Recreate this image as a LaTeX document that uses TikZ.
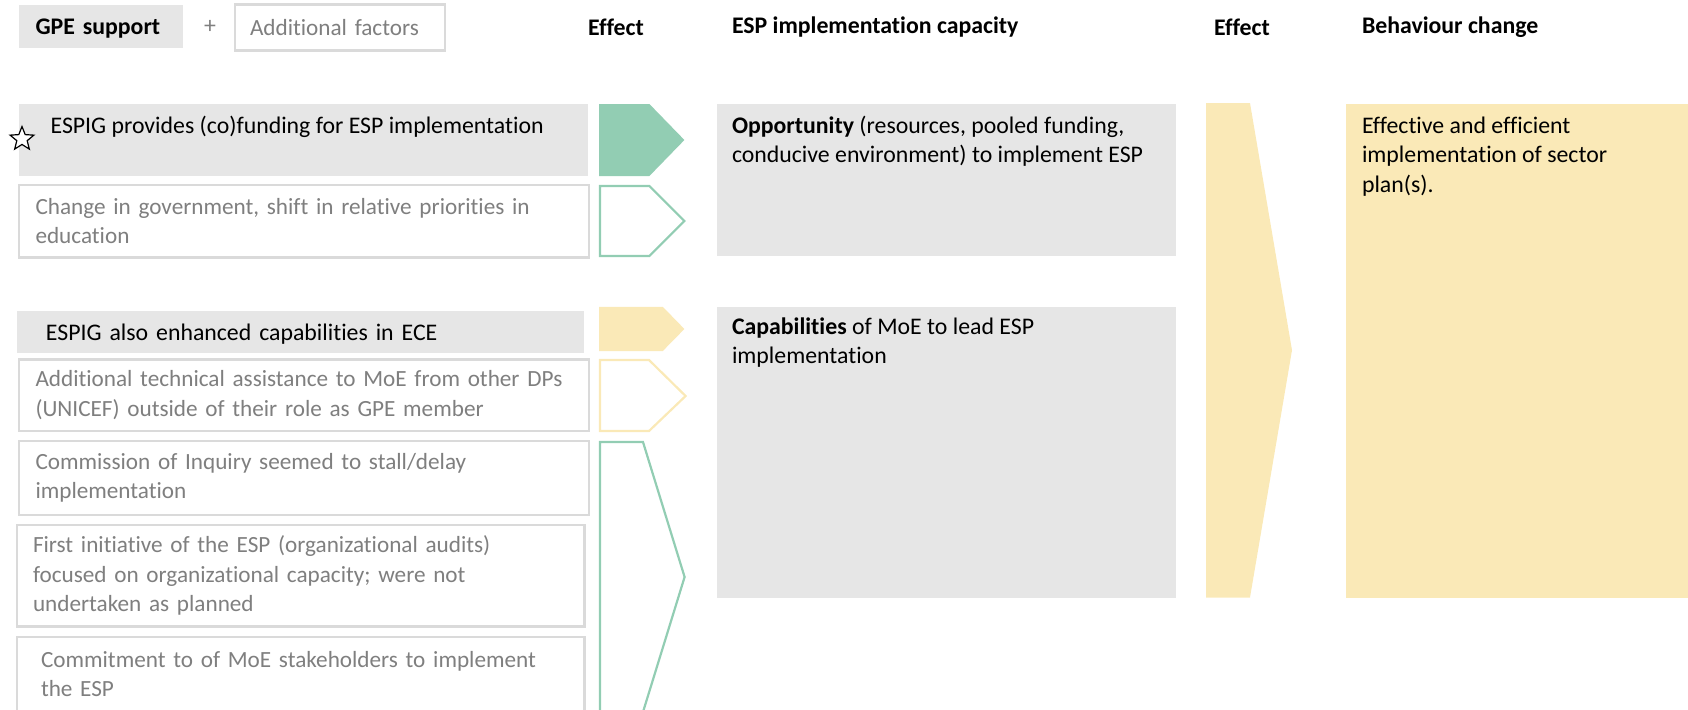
\documentclass[tikz,border=0pt]{standalone}
\usepackage{fontspec}
\setmainfont{Carlito}[Ligatures=NoCommon]
\usetikzlibrary{positioning,shapes.geometric}
\definecolor{boxgray}{HTML}{E6E6E6}
\definecolor{linegray}{HTML}{DADADA}
\definecolor{textgray}{HTML}{7F7F7F}
\definecolor{effgreen}{HTML}{92CDB3}
\definecolor{effyellow}{HTML}{FAE9B7}

\begin{document}
\begin{tikzpicture}[x=1pt, y=1pt,
  every node/.style={font=\fontsize{11.9}{14.75}\selectfont, inner sep=0pt, outer sep=0pt},
  head/.style={font=\fontsize{11.9}{14.75}\selectfont\bfseries},
  support/.style={fill=boxgray, anchor=north west, align=left},
  factor/.style={draw=linegray, line width=1.1pt, fill=white, text=textgray, anchor=north west, align=left, font=\fontsize{11.6}{14.75}\selectfont},
  oneline/.style={text depth=0pt},
  inbox/.style={anchor=base west, align=left},
  greenfill/.style={fill=effgreen},
  greenline/.style={draw=effgreen, line width=1.1pt},
  yellowfill/.style={fill=effyellow},
  yellowline/.style={draw=effyellow, line width=1.1pt}
]
\useasboundingbox (0,0) rectangle (844,-354.5);
\clip (0,0) rectangle (844,-354.5);

% column heads
\node[support, oneline, font=\fontsize{11.9}{14.75}\selectfont\bfseries, minimum width=82pt, minimum height=21.5pt, inner xsep=8.25pt, text width=65.5pt] (gpe) at (9.5,-2.5) {GPE support};
\node[text=textgray] (plus) at (105,-13.5) {+};
\node[factor, oneline, minimum width=105pt, minimum height=23pt, inner xsep=7.5pt, text width=90pt] (addf) at (117.5,-2.2) {Additional factors};
\node[head] (eff1) at (308,-13.5) {Effect};
\node[head, anchor=west] (capacity) at (366,-13.5) {ESP implementation capacity};
\node[head] (eff2) at (621,-13.5) {Effect};
\node[head, anchor=west] (behaviour) at (681,-13.5) {Behaviour change};

% left column
\node[support, minimum width=284.5pt, minimum height=36pt] (espig) at (9.5,-52) {};
\node[inbox] (espigtxt) at (25.3,-66.5) {ESPIG provides (co)funding for ESP implementation};
\node[star, star points=5, star point ratio=2.3, draw, line width=0.6pt, fill=white, minimum size=12.5pt] (mark) at (11,-69.5) {};
\node[factor, minimum width=285pt, minimum height=36.25pt, inner xsep=8.25pt, text width=268.5pt] (govt) at (9.5,-92.5) {Change in government, shift in relative priorities in\\education};
\node[support, oneline, minimum width=283.25pt, minimum height=21pt, inner xsep=14.5pt, text width=254.25pt] (ece) at (8.5,-155.5) {ESPIG also enhanced capabilities in ECE};
\node[factor, minimum width=285pt, minimum height=35.75pt, inner xsep=8.25pt, text width=268.5pt] (ta) at (9.5,-179.75) {Additional technical assistance to MoE from other DPs\\(UNICEF) outside of their role as GPE member};
\node[factor, minimum width=285pt, minimum height=37pt, inner xsep=8.25pt, text width=268.5pt] (inquiry) at (9.5,-220.5) {Commission of Inquiry seemed to stall/delay\\implementation};
\node[factor, minimum width=283.75pt, minimum height=50.75pt, inner xsep=8pt, text width=267.75pt] (audits) at (8.5,-262.5) {First initiative of the ESP (organizational audits)\\focused on organizational capacity; were not\\undertaken as planned};
\node[factor, minimum width=283.75pt, minimum height=37pt, inner xsep=12pt, text width=259.75pt] (commit) at (8.5,-318.5) {Commitment to of MoE stakeholders to implement\\the ESP};

% effect arrows
\fill[greenfill] (299.5,-52) -- (324.7,-52) -- (342.2,-70) -- (324.7,-88) -- (299.5,-88) -- cycle;
\draw[greenline] (300,-93) -- (324.7,-93) -- (342.2,-110.5) -- (324.7,-128) -- (300,-128) -- cycle;
\fill[yellowfill] (299.5,-153.4) -- (331.4,-153.4) -- (342.2,-164.5) -- (331.4,-175.5) -- (299.5,-175.5) -- cycle;
\draw[yellowline] (300,-180) -- (324.5,-180) -- (342.8,-198) -- (324.5,-215.5) -- (300,-215.5) -- cycle;
\draw[greenline] (300,-221) -- (321.5,-221) -- (342.3,-288.5) -- (321.5,-356) -- (300,-356) -- cycle;

% capacity column
\node[support, minimum width=229.25pt, minimum height=76pt] (opp) at (358.5,-52) {};
\node[inbox] (opptxt) at (366,-81.25) {\textbf{Opportunity} (resources, pooled funding,\\conducive environment) to implement ESP};
\node[support, minimum width=229.25pt, minimum height=145.25pt] (capab) at (358.5,-153.5) {};
\node[inbox] (capabtxt) at (366,-181.75) {\textbf{Capabilities} of MoE to lead ESP\\implementation};

% second effect and behaviour change
\fill[yellowfill] (603,-51.5) -- (625,-51.5) -- (646,-175.1) -- (625,-298.75) -- (603,-298.75) -- cycle;
\node[support, fill=effyellow, minimum width=180pt, minimum height=246.75pt] (change) at (672.8,-52) {};
\node[inbox] (changetxt) at (681,-96) {Effective and efficient\\implementation of sector\\plan(s).};
\end{tikzpicture}
\end{document}
